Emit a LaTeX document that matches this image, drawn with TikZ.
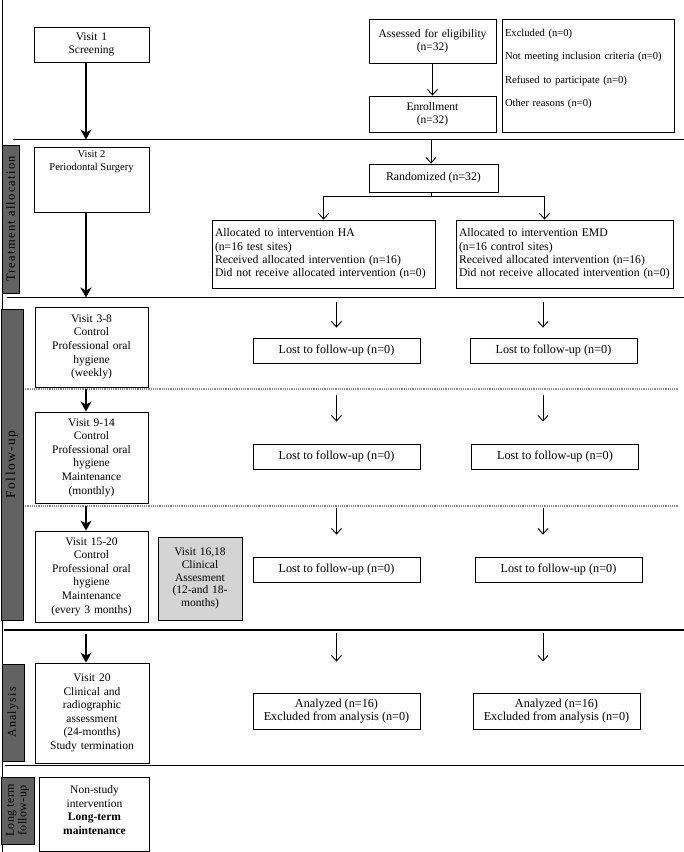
\documentclass[tikz,border=0pt]{standalone}
\usepackage{fontspec}
\setmainfont{Liberation Serif}
\usetikzlibrary{arrows.meta,positioning}
\definecolor{sidegray}{RGB}{98,98,98}
\definecolor{clingray}{RGB}{212,212,212}

\begin{document}
\begin{tikzpicture}[x=1pt,y=-1pt,
  vbox/.style={draw,line width=0.8pt,align=center,inner sep=3pt,font=\fontsize{11.5}{13.6}\selectfont},
  fbox/.style={draw,line width=0.8pt,align=center,inner sep=3pt,font=\fontsize{11.5}{13.4}\selectfont},
  lbox/.style={fbox,minimum width=167pt,font=\fontsize{12.2}{13.6}\selectfont},
  side/.style={draw,line width=0.8pt,fill=sidegray,rotate=90,inner sep=0pt,align=center},
  divider/.style={line width=1.4pt},
  dotdiv/.style={line width=1.2pt,densely dotted,draw=black!45},
  bigarrow/.style={line width=2.4pt,-{Stealth[length=10pt,width=11pt,inset=3pt]}},
  smallarrow/.style={line width=0.9pt,-{Straight Barb[length=5.5pt,width=10pt]}}]
\useasboundingbox (0,0) rectangle (684,852);

% frame and phase lines
\draw[line width=0.8pt] (2.5,0) -- (2.5,852);
\draw[divider] (13,139.5) -- (684,139.5);
\draw[divider] (7,297.5) -- (684,297.5);
\draw[dotdiv] (23,389) -- (678,389);
\draw[dotdiv] (23,506) -- (678,506);
\draw[divider] (4,630) -- (684,630);
\draw[divider] (5,765.5) -- (684,765.5);
\coordinate (d1a) at (86,139.5);
\coordinate (d1b) at (431,139.5);
\coordinate (d2a) at (86,297.5);
\coordinate (d3a) at (86,389);
\coordinate (d4a) at (86,506);
\coordinate (d5a) at (86,634);
\coordinate (split) at (431,196);

% phase labels
\node[side,minimum width=148pt,minimum height=17pt,font=\fontsize{12.5}{13}\selectfont\addfontfeature{LetterSpace=10}] (sb1) at (10.5,219) {Treatment allocation};
\node[side,minimum width=311pt,minimum height=22pt,font=\fontsize{13.5}{14}\selectfont\addfontfeature{LetterSpace=10}] (sb2) at (12,464.5) {Follow-up};
\node[side,minimum width=97pt,minimum height=22pt,font=\fontsize{12}{13}\selectfont\addfontfeature{LetterSpace=10}] (sb3) at (13,712.5) {Analysis};
\node[side,minimum width=67pt,minimum height=33pt,font=\fontsize{12}{12.5}\selectfont\addfontfeature{LetterSpace=3}] (sb4) at (17.5,810.5) {Long term\\follow-up};

% visit column
\node[vbox,text width=109pt,minimum height=35pt] (v1) at (91.5,44.5) {Visit 1\\Screening};
\node[vbox,minimum width=115pt,minimum height=65pt,font=\fontsize{10.5}{13}\selectfont] (v2) at (91.5,179.5) {\parbox[c][58pt][t]{109pt}{\centering Visit 2\\Periodontal Surgery}};
\node[vbox,text width=107pt,minimum height=80pt] (v3) at (91.5,347) {Visit 3-8\\Control\\Professional oral\\hygiene\\(weekly)};
\node[vbox,text width=107pt,minimum height=91pt] (v9) at (91.5,457.5) {Visit 9-14\\Control\\Professional oral\\hygiene\\Maintenance\\(monthly)};
\node[vbox,text width=107pt,minimum height=91pt] (v15) at (91.5,576.5) {Visit 15-20\\Control\\Professional oral\\hygiene\\Maintenance\\(every 3 months)};
\node[vbox,fill=clingray,text width=78pt,minimum height=83pt,font=\fontsize{11.5}{12.8}\selectfont] (clin) at (200,578.5) {Visit 16,18\\Clinical\\Assesment\\(12-and 18-\\months)};
\node[vbox,text width=108pt,minimum height=100pt] (v20) at (92,713) {Visit 20\\Clinical and\\radiographic\\assessment\\(24-months)\\Study termination};
\node[vbox,text width=104pt,minimum height=74pt] (ns) at (94.5,814) {Non-study\\intervention\\\textbf{Long-term}\\\textbf{maintenance}\\[-6pt]\mbox{}};

% enrollment
\node[fbox,text width=121pt,minimum height=44pt] (assess) at (432.5,41) {Assessed for eligibility\\(n=32)};
\node[fbox,text width=121pt,minimum height=36pt] (enrol) at (432.5,114) {Enrollment\\(n=32)};
\node[fbox,align=left,text width=166pt,minimum height=113pt,font=\fontsize{10.6}{23.5}\selectfont] (excl) at (588,75.5) {Excluded (n=0)\\Not meeting inclusion criteria (n=0)\\Refused to participate (n=0)\\Other reasons (n=0)\\[-8pt]\mbox{}};

% allocation
\node[fbox,minimum width=129pt,minimum height=28pt,font=\fontsize{11.8}{13.4}\selectfont] (rand) at (433.5,178) {Randomized (n=32)};
\node[fbox,align=left,text width=217pt,minimum height=68pt,font=\fontsize{11.7}{13.3}\selectfont] (ha) at (323.5,254) {Allocated to intervention HA\\(n=16 test sites)\\Received allocated intervention (n=16)\\Did not receive allocated intervention (n=0)};
\node[fbox,align=left,text width=211pt,minimum height=68pt,font=\fontsize{11.7}{13.3}\selectfont] (emd) at (564.5,254) {Allocated to intervention EMD\\(n=16 control sites)\\Received allocated intervention (n=16)\\Did not receive allocated intervention (n=0)};

% follow-up and analysis
\node[lbox,minimum height=25pt] (l1a) at (336.5,350.5) {Lost to follow-up (n=0)};
\node[lbox,minimum height=25pt] (l1b) at (553.5,350.5) {Lost to follow-up (n=0)};
\node[lbox,minimum height=25pt] (l2a) at (336.5,456.5) {Lost to follow-up (n=0)};
\node[lbox,minimum height=25pt] (l2b) at (555,456.5) {Lost to follow-up (n=0)};
\node[lbox,minimum height=25pt] (l3a) at (336.5,569.5) {Lost to follow-up (n=0)};
\node[lbox,minimum height=25pt] (l3b) at (558.5,569.5) {Lost to follow-up (n=0)};
\node[lbox,minimum height=36pt] (an1) at (336.5,711) {Analyzed (n=16)\\Excluded from analysis (n=0)};
\node[lbox,minimum height=36pt] (an2) at (556.5,711) {Analyzed (n=16)\\Excluded from analysis (n=0)};

% visit arrows
\draw[bigarrow] (v1.south -| d1a) -- (d1a);
\draw[bigarrow] (v2.south -| d2a) -- (d2a);
\draw[bigarrow] (d3a) -- (d3a |- v9.north);
\draw[bigarrow] (d4a) -- (d4a |- v15.north);
\draw[bigarrow] (d5a) -- (d5a |- v20.north);

% flow arrows
\draw[smallarrow] (assess) -- (enrol);
\draw[smallarrow] (d1b) -- (d1b |- rand.north);
\draw[line width=0.9pt] (rand.south -| split) -- (split);
\draw[smallarrow] (split) -| (ha.north);
\draw[smallarrow] (split) -| ([xshift=-20pt]emd.north);
\draw[smallarrow] ([yshift=36pt]l1a.north) -- ([yshift=10pt]l1a.north);
\draw[smallarrow] ([xshift=-10.5pt,yshift=36pt]l1b.north) -- ([xshift=-10.5pt,yshift=10pt]l1b.north);
\draw[smallarrow] ([yshift=49pt]l2a.north) -- ([yshift=22pt]l2a.north);
\draw[smallarrow] ([xshift=-12pt,yshift=49pt]l2b.north) -- ([xshift=-12pt,yshift=22pt]l2b.north);
\draw[smallarrow] ([yshift=49pt]l3a.north) -- ([yshift=22pt]l3a.north);
\draw[smallarrow] ([xshift=-15.5pt,yshift=49pt]l3b.north) -- ([xshift=-15.5pt,yshift=22pt]l3b.north);
\draw[smallarrow] ([yshift=60pt]an1.north) -- ([yshift=31pt]an1.north);
\draw[smallarrow] ([xshift=-13.5pt,yshift=60pt]an2.north) -- ([xshift=-13.5pt,yshift=31pt]an2.north);
\end{tikzpicture}
\end{document}
